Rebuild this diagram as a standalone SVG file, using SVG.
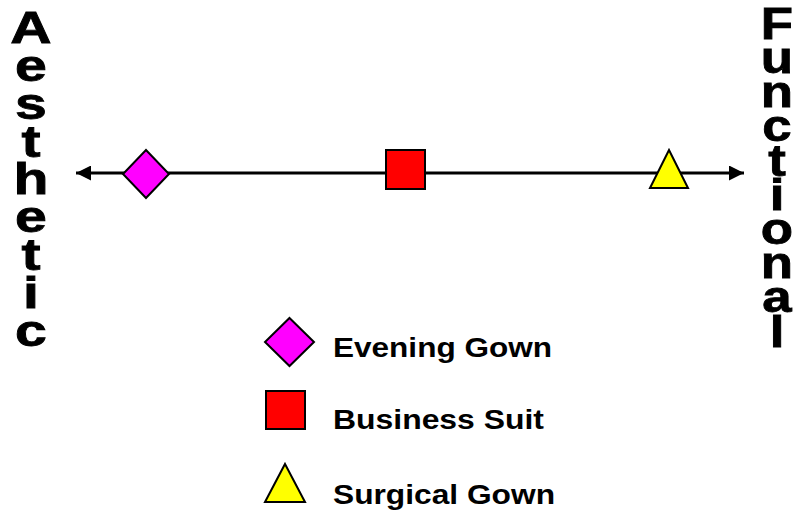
<svg xmlns="http://www.w3.org/2000/svg" width="795" height="514" viewBox="0 0 795 514">
<defs>
<style>
.v{font-family:"Liberation Sans",Arial,sans-serif;font-weight:bold;font-size:44px;fill:#000;stroke:#000;stroke-width:0.8;text-anchor:middle}
.lg{font-family:"Liberation Sans",Arial,sans-serif;font-weight:bold;font-size:28px;fill:#000}
.sh{stroke:#000;stroke-width:2;stroke-linejoin:miter}
</style>
<marker id="ah" viewBox="0 0 10 10" refX="10" refY="5" markerWidth="5" markerHeight="5" orient="auto-start-reverse" markerUnits="strokeWidth">
<path d="M0,0 L10,5 L0,10 Z" fill="#000"/>
</marker>
</defs>
<rect width="795" height="514" fill="#fff"/>
<g id="connectors">
<line x1="76" y1="173" x2="744" y2="173" stroke="#000" stroke-width="3" marker-start="url(#ah)" marker-end="url(#ah)"/>
</g>
<g id="aesthetic" transform="translate(31,0) scale(1.3,1)">
<text class="v" x="0" y="43">A</text>
<text class="v" x="0" y="81">e</text>
<text class="v" x="0" y="119">s</text>
<text class="v" x="0" y="157">t</text>
<text class="v" x="0" y="194">h</text>
<text class="v" x="0" y="232">e</text>
<text class="v" x="0" y="270">t</text>
<text class="v" x="0" y="308">i</text>
<text class="v" x="0" y="346">c</text>
</g>
<g id="functional" transform="translate(777,0) scale(1.2,1)">
<text class="v" x="0" y="39">F</text>
<text class="v" x="0" y="73">u</text>
<text class="v" x="0" y="107">n</text>
<text class="v" x="0" y="141">c</text>
<text class="v" x="0" y="176">t</text>
<text class="v" x="0" y="210">i</text>
<text class="v" x="0" y="244">o</text>
<text class="v" x="0" y="278">n</text>
<text class="v" x="0" y="312">a</text>
<text class="v" x="0" y="347">l</text>
</g>
<g id="evening-gown-marker">
<polygon class="sh" fill="#ff00ff" points="146,150 169,174 146,198 123,174"/>
</g>
<g id="business-suit-marker">
<rect class="sh" fill="#ff0000" x="386" y="150" width="39" height="39"/>
</g>
<g id="surgical-gown-marker">
<polygon class="sh" fill="#ffff00" points="669,150 688,188 650,188"/>
</g>
<g id="legend-evening">
<polygon class="sh" fill="#ff00ff" points="289.5,318 314,342 289.5,366 265,342"/>
<text class="lg" x="333" y="357" textLength="219" lengthAdjust="spacingAndGlyphs">Evening Gown</text>
</g>
<g id="legend-business">
<rect class="sh" fill="#ff0000" x="266" y="391" width="39" height="38"/>
<text class="lg" x="333" y="429" textLength="211" lengthAdjust="spacingAndGlyphs">Business Suit</text>
</g>
<g id="legend-surgical">
<polygon class="sh" fill="#ffff00" points="285,464 305,502 265,502"/>
<text class="lg" x="333" y="504" textLength="222" lengthAdjust="spacingAndGlyphs">Surgical Gown</text>
</g>
</svg>
